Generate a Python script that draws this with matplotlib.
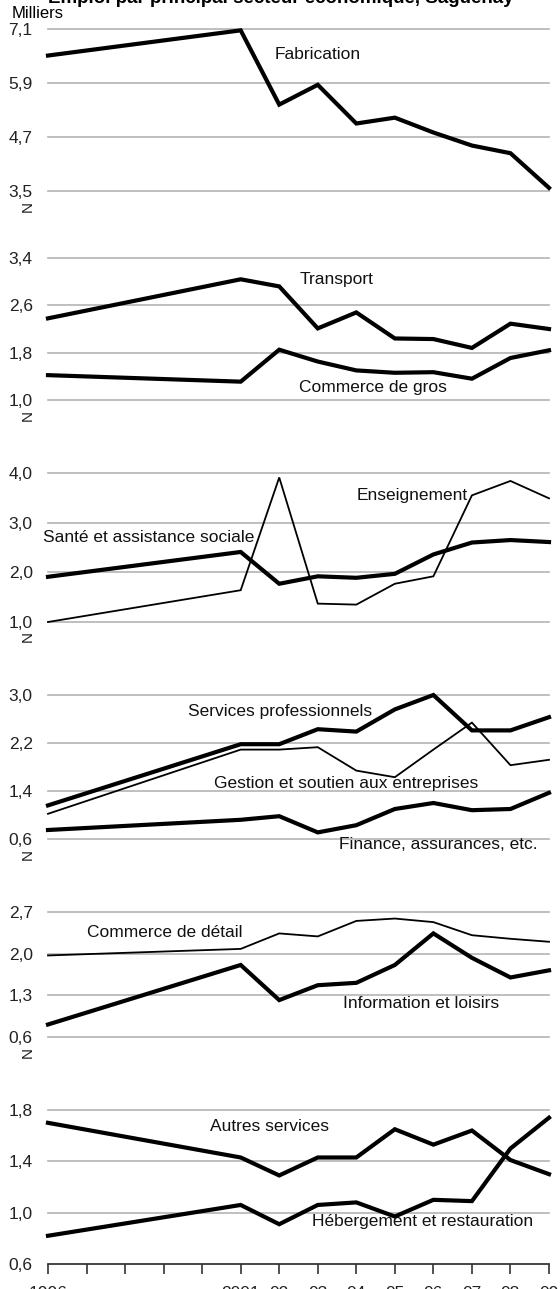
import matplotlib
matplotlib.use("Agg")
import matplotlib.pyplot as plt
from matplotlib import font_manager

# Emploi (milliers) par secteur, 1996 puis 2001-2009
years = [1996, 2001, 2002, 2003, 2004, 2005, 2006, 2007, 2008, 2009]

fabrication = [6.51, 7.07, 5.42, 5.86, 5.00, 5.13, 4.80, 4.51, 4.34, 3.57]
transport = [2.38, 3.04, 2.92, 2.21, 2.48, 2.04, 2.03, 1.88, 2.29, 2.20]
commerce_gros = [1.42, 1.31, 1.85, 1.65, 1.50, 1.46, 1.47, 1.36, 1.71, 1.84]
sante = [1.91, 2.41, 1.77, 1.92, 1.89, 1.97, 2.36, 2.60, 2.65, 2.61]
enseignement = [1.00, 1.64, 3.91, 1.37, 1.35, 1.77, 1.92, 3.55, 3.84, 3.49]
services_pro = [1.16, 2.18, 2.18, 2.43, 2.39, 2.76, 3.00, 2.41, 2.41, 2.63]
gestion = [1.02, 2.09, 2.09, 2.13, 1.74, 1.63, 2.09, 2.54, 1.83, 1.92]
finance = [0.75, 0.92, 0.98, 0.71, 0.83, 1.10, 1.20, 1.08, 1.10, 1.37]
commerce_detail = [1.97, 2.08, 2.34, 2.29, 2.55, 2.59, 2.53, 2.31, 2.25, 2.20]
information = [0.81, 1.81, 1.22, 1.47, 1.51, 1.81, 2.34, 1.93, 1.60, 1.72]
autres_services = [1.70, 1.43, 1.29, 1.43, 1.43, 1.65, 1.53, 1.64, 1.41, 1.30]
hebergement = [0.82, 1.06, 0.91, 1.06, 1.08, 0.97, 1.10, 1.09, 1.50, 1.74]

y_ticks = [
    [3.5, 4.7, 5.9, 7.1],
    [1.0, 1.8, 2.6, 3.4],
    [1.0, 2.0, 3.0, 4.0],
    [0.6, 1.4, 2.2, 3.0],
    [0.6, 1.3, 2.0, 2.7],
    [0.6, 1.0, 1.4, 1.8],
]
x_ticks = list(range(1996, 2010))
x_labels = ["1996", "", "", "", "", "2001", "02", "03", "04", "05", "06", "07", "08", "09"]

available = {f.name for f in font_manager.fontManager.ttflist}
family = [f for f in ["Liberation Sans Narrow", "Liberation Sans", "DejaVu Sans"] if f in available]
plt.rcParams["font.family"] = family

W, H = 560, 1289
LEFT, RIGHT = 48, 549
THICK, THIN = 3.0, 1.3
FS = 12.5

# (haut px, bas px, series) ; series = (valeurs, libelle, epaisseur, x libelle, y libelle)
panels = [
    (29, 191, [(fabrication, "Fabrication", THICK, 2001.89, 6.53)]),
    (258, 400, [(transport, "Transport", THICK, 2002.52, 3.03),
                (commerce_gros, "Commerce de gros", THICK, 2002.52, 1.21)]),
    (473, 622, [(sante, "Santé et assistance sociale", THICK, 1995.88, 2.71),
                (enseignement, "Enseignement", THIN, 2004.0, 3.55)]),
    (695, 839, [(services_pro, "Services professionnels", THICK, 1999.62, 2.73),
                (gestion, "Gestion et soutien aux entreprises", THIN, 2000.31, 1.53),
                (finance, "Finance, assurances, etc.", THICK, 2003.56, 0.51)]),
    (912, 1037, [(commerce_detail, "Commerce de détail", THIN, 1997.02, 2.35),
                 (information, "Information et loisirs", THICK, 2003.65, 1.17)]),
    (1110, 1264, [(autres_services, "Autres services", THICK, 2000.2, 1.67),
                  (hebergement, "Hébergement et restauration", THICK, 2002.86, 0.93)]),
]

fig = plt.figure(figsize=(W / 100, H / 100), dpi=100)

fig.text(LEFT / W, 1 - 3 / H, "Emploi par principal secteur économique, Saguenay",
         fontsize=13.5, fontweight="bold", ha="left", va="baseline")
fig.text(12 / W, 1 - 13 / H, "Milliers", fontsize=12, ha="left", va="center")

for i, (top, bottom, series) in enumerate(panels):
    ax = fig.add_axes([LEFT / W, 1 - bottom / H, (RIGHT - LEFT) / W, (bottom - top) / H])
    ticks = y_ticks[i]
    ax.set_xlim(1996, 2009)
    ax.set_ylim(ticks[0], ticks[-1])
    for t in ticks:
        ax.axhline(t, color="#b4b4b4", lw=1.2, zorder=1, clip_on=False)
    ax.set_yticks(ticks)
    ax.set_yticklabels([f"{t:.1f}".replace(".", ",") for t in ticks])
    ax.tick_params(axis="y", length=0, pad=11, labelsize=FS, labelcolor="#222222")
    for side in ["top", "right", "left", "bottom"]:
        ax.spines[side].set_visible(False)

    for values, label, lw, lx, ly in series:
        ax.plot(years, values, color="black", lw=lw, zorder=3, clip_on=False,
                solid_joinstyle="miter")
        ax.text(lx, ly, label, fontsize=FS, ha="left", va="center", color="#111111",
                clip_on=False, zorder=4)

    if i < len(panels) - 1:
        ax.set_xticks([])
        fig.text(28 / W, 1 - (bottom + 15) / H, "N", rotation=90, fontsize=11,
                 ha="center", va="center", color="#222222")
    else:
        ax.spines["bottom"].set_visible(True)
        ax.spines["bottom"].set_color("#333333")
        ax.spines["bottom"].set_linewidth(1.2)
        ax.set_xticks(x_ticks)
        ax.set_xticklabels(x_labels)
        ax.tick_params(axis="x", direction="out", length=7, width=1.2, color="#333333",
                       pad=9, labelsize=FS, labelcolor="#222222")

fig.savefig("out.png", dpi=100)
